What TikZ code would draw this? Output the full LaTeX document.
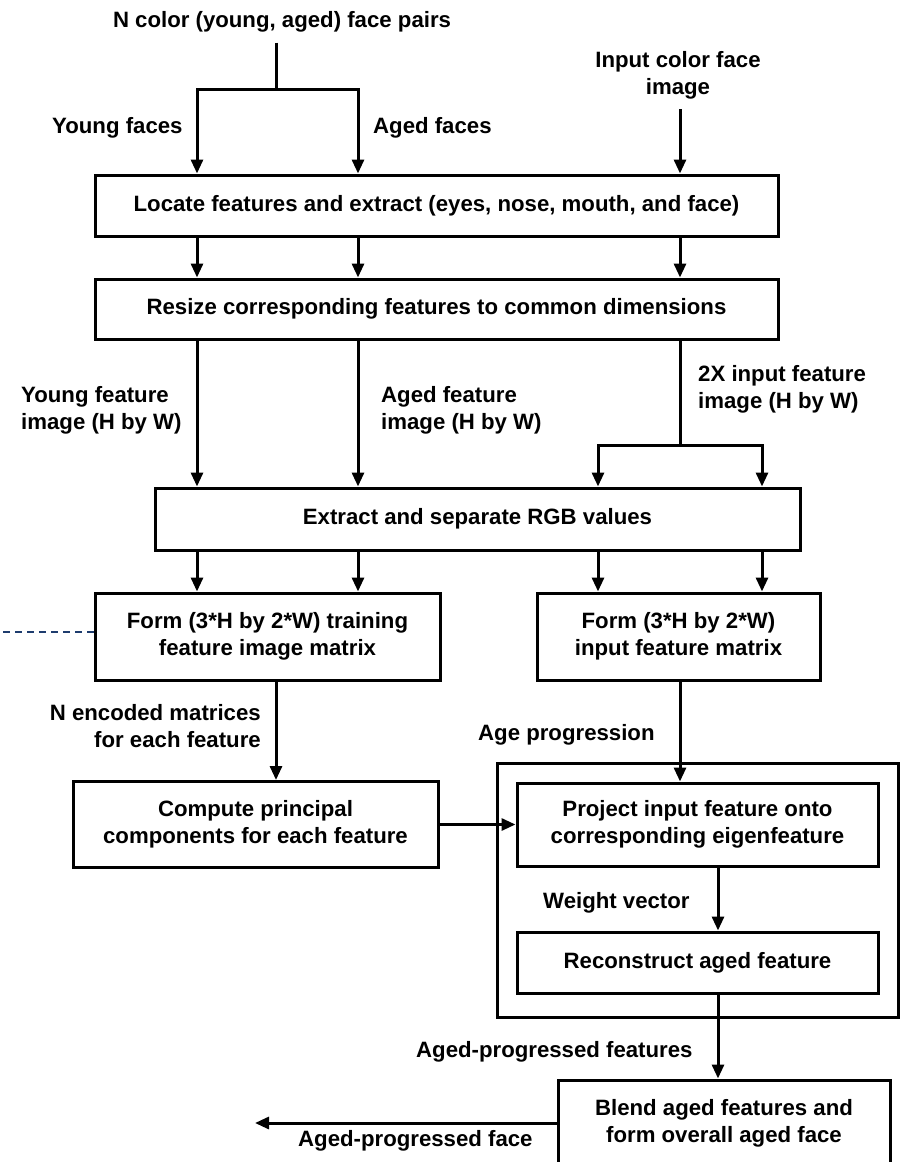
\documentclass[tikz,border=0pt]{standalone}
\usepackage{fontspec}
\setmainfont{Liberation Sans}
\usetikzlibrary{arrows.meta,calc}
\definecolor{dashblue}{RGB}{30,60,110}
\begin{document}
\begin{tikzpicture}[x=1pt,y=-1pt,
  every node/.style={font=\fontsize{22.2}{27}\selectfont\bfseries, inner sep=0pt},
  procbox/.style={draw, line width=3pt, align=center},
  lbl/.style={align=left, anchor=west},
  conn/.style={line width=3pt},
  arr/.style={line width=3pt, -{Triangle[length=14pt,width=12pt]}},
  dashline/.style={dashblue, line width=1.3pt, dash pattern=on 7pt off 5pt}]
\useasboundingbox (0,0) rectangle (900,1162);
% column coordinates
\coordinate (cA) at (197,0);
\coordinate (cB) at (358,0);
\coordinate (cC) at (680,0);
\coordinate (cD) at (598,0);
\coordinate (cE) at (762,0);
\coordinate (cF) at (276,0);
\coordinate (cG) at (718,0);
% top texts
\node (t0) at (282,22) {N color (young, aged) face pairs};
\node (tin) [align=center] at (678,75) {Input color face\\image};
\coordinate (j1) at (276,89);
\coordinate (j2) at (680,445);
\coordinate (outL) at (255,1123);
\coordinate (dl) at (0,632);
% boxes
\node (b1) [procbox, minimum width=683, minimum height=61] at (436.5,205.5) {Locate features and extract (eyes, nose, mouth, and face)};
\node (b2) [procbox, minimum width=683, minimum height=60] at (436.5,309) {Resize corresponding features to common dimensions};
\node (b3) [procbox, minimum width=645, minimum height=62] at (477.5,519) {Extract and separate RGB values};
\node (b4) [procbox, minimum width=345, minimum height=87] at (267.5,636.5) {Form (3*H by 2*W) training\\feature image matrix};
\node (b5) [procbox, minimum width=283, minimum height=87] at (678.5,636.5) {Form (3*H by 2*W)\\input feature matrix};
\node (b6) [procbox, minimum width=365, minimum height=86] at (255.5,824.5) {Compute principal\\components for each feature};
\node (outer) [draw, line width=3pt, minimum width=401, minimum height=254] at (697.5,890) {};
\node (b7) [procbox, minimum width=361, minimum height=83] at (697.5,824.5) {Project input feature onto\\corresponding eigenfeature};
\node (b8) [procbox, minimum width=361, minimum height=61] at (697.5,962.5) {Reconstruct aged feature};
\node (b9) [procbox, minimum width=332, minimum height=86] at (724,1123) {Blend aged features and\\form overall aged face};
% labels
\node (lyf) [lbl] at (52,128) {Young faces};
\node (laf) [lbl] at (373,128) {Aged faces};
\node (lyfi) [lbl] at (21,410) {Young feature\\image (H by W)};
\node (lafi) [lbl] at (381,410) {Aged feature\\image (H by W)};
\node (lin) [lbl] at (698,389) {2X input feature\\image (H by W)};
\node (lnenc) [align=right, anchor=east] at (261,726) {N encoded matrices\\for each feature};
\node (lage) [lbl] at (478,735) {Age progression};
\node (lwv) [lbl] at (543,903) {Weight vector};
\node (lapf) [lbl] at (416,1052) {Aged-progressed features};
\node (lapface) [lbl] at (298,1141) {Aged-progressed face};
% connectors
\draw[conn] (t0.south -| j1) ++(0,10) -- (j1);
\draw[arr] (j1) -| (b1.north -| cA);
\draw[arr] (j1) -| (b1.north -| cB);
\draw[arr] ([yshift=-10pt]tin.south -| cC) -- (b1.north -| cC);
\foreach \c in {cA,cB,cC}{\draw[arr] (b1.south -| \c) -- (b2.north -| \c);}
\draw[arr] (b2.south -| cA) -- (b3.north -| cA);
\draw[arr] (b2.south -| cB) -- (b3.north -| cB);
\draw[conn] (b2.south -| cC) -- (j2);
\draw[arr] (j2) -| (b3.north -| cD);
\draw[arr] (j2) -| (b3.north -| cE);
\draw[arr] (b3.south -| cA) -- (b4.north -| cA);
\draw[arr] (b3.south -| cB) -- (b4.north -| cB);
\draw[arr] (b3.south -| cD) -- (b5.north -| cD);
\draw[arr] (b3.south -| cE) -- (b5.north -| cE);
\draw[arr] (b4.south -| cF) -- (b6.north -| cF);
\draw[arr] (b5.south -| cC) -- (b7.north -| cC);
\draw[arr] (b6.east) -- (b7.west |- b6.east);
\draw[arr] (b7.south -| cG) -- (b8.north -| cG);
\draw[arr] (b8.south -| cG) -- (b9.north -| cG);
\draw[arr] (b9.west) -- (outL);
\draw[dashline] (b4.west |- dl) -- (dl);
\end{tikzpicture}
\end{document}
